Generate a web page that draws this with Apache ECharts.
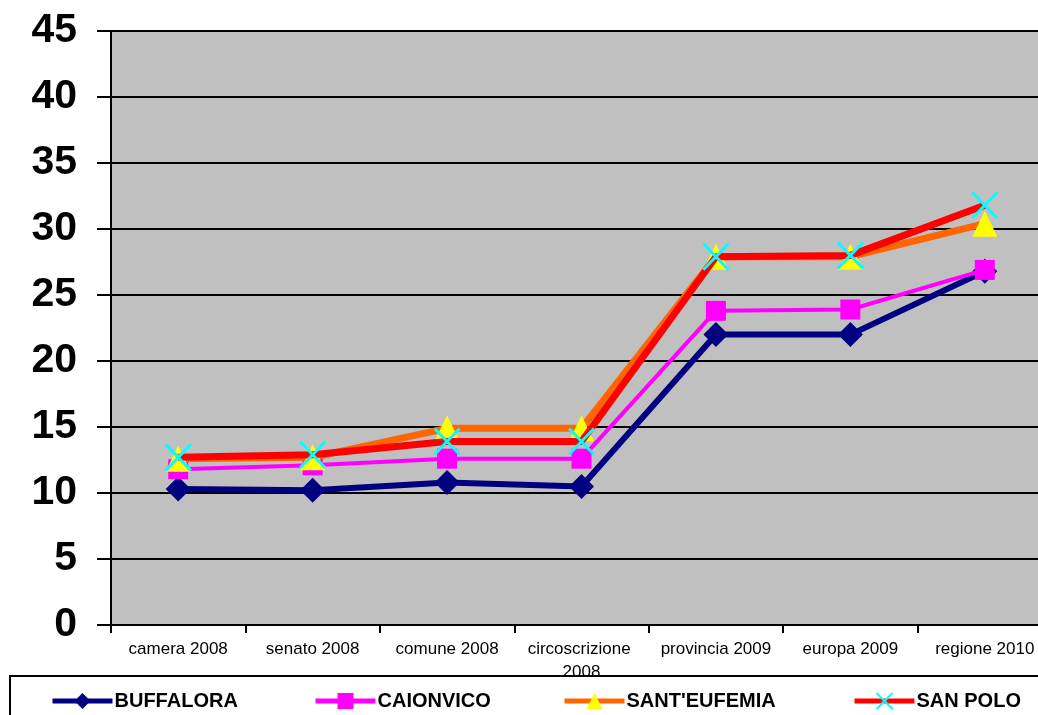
<!DOCTYPE html>
<html>
<head>
<meta charset="utf-8">
<script src="https://cdn.jsdelivr.net/npm/echarts@6/dist/echarts.min.js"></script>
<style>
html,body{margin:0;padding:0;background:#fff;}
#chart{width:1038px;height:715px;}
</style>
</head>
<body>
<div id="chart"></div>
<script>
var categories = ['camera 2008','senato 2008','comune 2008','circoscrizione 2008','provincia 2009','europa 2009','regione 2010'];
var yTicks = [0,5,10,15,20,25,30,35,40,45];
var buffalora   = [10.3, 10.2, 10.8, 10.5, 22.0, 22.0, 26.8];
var caionvico   = [11.8, 12.1, 12.6, 12.6, 23.8, 23.9, 26.9];
var santEufemia = [12.6, 12.7, 14.9, 14.9, 27.9, 27.9, 30.4];
var sanPolo     = [12.7, 12.9, 13.9, 13.9, 27.9, 28.0, 31.8];
var seriesNames = ['BUFFALORA','CAIONVICO',"SANT'EUFEMIA",'SAN POLO'];

var FONT = '"Liberation Sans", Arial, sans-serif';
var crossPath = 'path://M0,0L10,10M10,0L0,10';

var chart = echarts.init(document.getElementById('chart'), null, {renderer:'canvas'});

function legendAt(name, left){
  return {
    data:[name], left:left, top:686, orient:'horizontal',
    itemWidth:60, itemHeight:20, itemGap:0,
    lineStyle:{width:5},
    textStyle:{fontFamily:FONT, fontWeight:'bold', fontSize:20, color:'#000', padding:[0,0,0,-3]}
  };
}

chart.setOption({
  animation:false,
  backgroundColor:'#fff',
  grid:{left:111, top:31, width:941, bottom:90, outerBoundsMode:'none', show:true, backgroundColor:'#C0C0C0', borderWidth:0, containLabel:false},
  xAxis:{
    type:'category', data:categories, boundaryGap:true,
    axisLine:{show:true, onZero:false, lineStyle:{color:'#000', width:2}},
    axisTick:{show:true, inside:false, length:8, lineStyle:{color:'#000', width:2}},
    axisLabel:{fontFamily:FONT, fontSize:17, color:'#000', margin:13, interval:0, width:128, overflow:'break', lineHeight:23, hideOverlap:false},
    splitLine:{show:false}
  },
  yAxis:{
    type:'value', min:yTicks[0], max:yTicks[yTicks.length-1], interval:5,
    axisLine:{show:true, lineStyle:{color:'#000', width:2}},
    axisTick:{show:true, inside:false, length:14, lineStyle:{color:'#000', width:2}},
    axisLabel:{fontFamily:FONT, fontSize:41, fontWeight:'bold', color:'#000', margin:34},
    splitLine:{show:true, lineStyle:{color:'#000', width:2}}
  },
  legend:[
    legendAt(seriesNames[0], 45),
    legendAt(seriesNames[1], 308),
    legendAt(seriesNames[2], 557),
    legendAt(seriesNames[3], 847)
  ],
  graphic:[{
    type:'rect', z:100, silent:true,
    shape:{x:10, y:676, width:1040, height:60},
    style:{fill:'none', stroke:'#000', lineWidth:2}
  }],
  series:[
    {name:seriesNames[0], type:'line', data:buffalora, symbol:'diamond', symbolSize:[25,25],
     lineStyle:{color:'#000080', width:6}, itemStyle:{color:'#000080'}, z:2},
    {name:seriesNames[1], type:'line', data:caionvico, symbol:'rect', symbolSize:[20,20],
     lineStyle:{color:'#FF00FF', width:4}, itemStyle:{color:'#FF00FF'}, z:3},
    {name:seriesNames[2], type:'line', data:santEufemia, symbol:'triangle', symbolSize:[25,26],
     lineStyle:{color:'#FF6600', width:7}, itemStyle:{color:'#FFFF00'}, z:4},
    {name:seriesNames[3], type:'line', data:sanPolo, symbol:crossPath, symbolSize:[25,26],
     lineStyle:{color:'#FF0000', width:7}, itemStyle:{color:'#00FFFF', borderColor:'#00FFFF', borderWidth:3}, z:5}
  ]
});
</script>
</body>
</html>
